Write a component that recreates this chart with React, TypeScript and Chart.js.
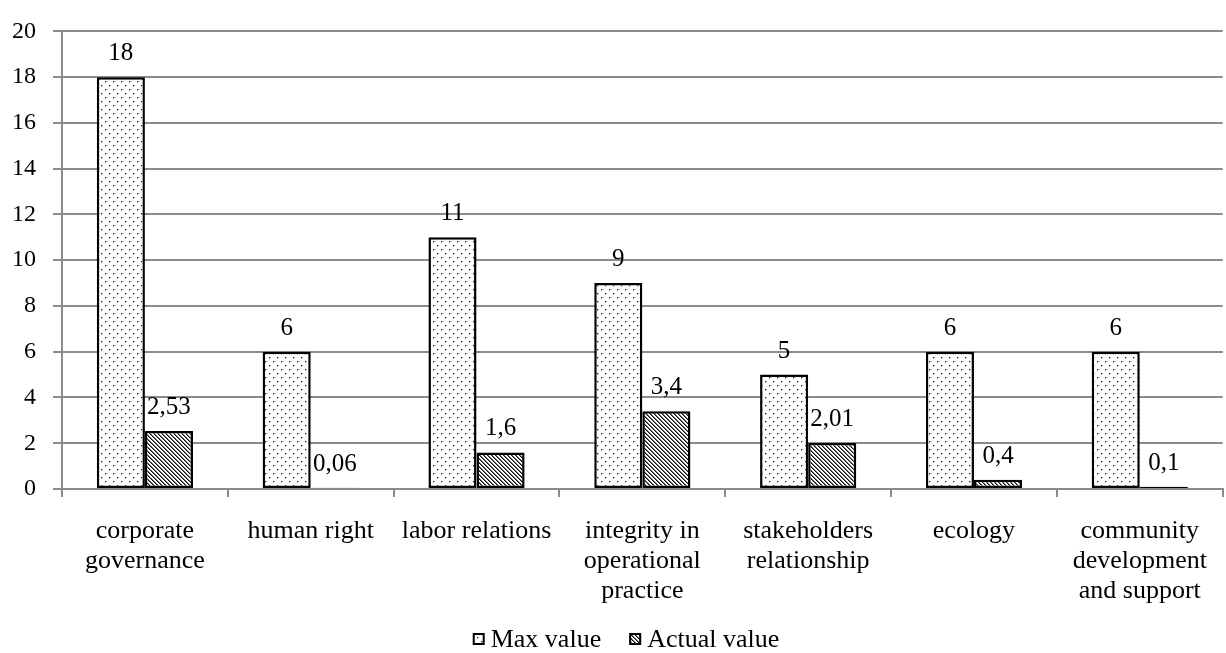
import React, { useEffect, useRef } from "react";
import { Chart, registerables } from "chart.js";

Chart.register(...registerables);

const categories: string[][] = [
  ["corporate", "governance"],
  ["human right"],
  ["labor relations"],
  ["integrity in", "operational", "practice"],
  ["stakeholders", "relationship"],
  ["ecology"],
  ["community", "development", "and support"],
];
const maxValues = [18, 6, 11, 9, 5, 6, 6];
const actualValues = [2.53, 0.06, 1.6, 3.4, 2.01, 0.4, 0.1];
const seriesNames = ["Max value", "Actual value"];
const yTicks = { min: 0, max: 20, step: 2 };

const FONT = "'Liberation Serif', 'Times New Roman', serif";

function makeDots(): CanvasPattern | string {
  const c = document.createElement("canvas");
  c.width = 8;
  c.height = 8;
  const ctx = c.getContext("2d");
  if (!ctx) return "#fff";
  ctx.fillStyle = "#fff";
  ctx.fillRect(0, 0, 8, 8);
  ctx.fillStyle = "#222";
  ctx.fillRect(1, 1, 1, 1);
  ctx.fillRect(5, 5, 1, 1);
  ctx.fillStyle = "rgba(0,0,0,0.35)";
  ctx.fillRect(2, 1, 1, 1);
  ctx.fillRect(6, 5, 1, 1);
  ctx.fillRect(1, 2, 1, 1);
  ctx.fillRect(5, 6, 1, 1);
  return ctx.createPattern(c, "repeat") || "#fff";
}

function makeHatch(): CanvasPattern | string {
  const n = 4;
  const c = document.createElement("canvas");
  c.width = n;
  c.height = n;
  const ctx = c.getContext("2d");
  if (!ctx) return "#666";
  const img = ctx.createImageData(n, n);
  for (let y = 0; y < n; y++) {
    for (let x = 0; x < n; x++) {
      const d = (((x - y) % n) + n) % n;
      let v = 255;
      if (d === 0) v = 15;
      else if (d === 1) v = 110;
      const i = (y * n + x) * 4;
      img.data[i] = v;
      img.data[i + 1] = v;
      img.data[i + 2] = v;
      img.data[i + 3] = 255;
    }
  }
  ctx.putImageData(img, 0, 0);
  return ctx.createPattern(c, "repeat") || "#666";
}

const fmt = (v: number) => String(v).replace(".", ",");

const labelPlugin = {
  id: "valueLabels",
  afterDatasetsDraw(chart: any) {
    const ctx = chart.ctx;
    ctx.save();
    ctx.font = `25px ${FONT}`;
    ctx.fillStyle = "#000";
    ctx.textAlign = "center";
    ctx.textBaseline = "alphabetic";
    chart.data.datasets.forEach((ds: any, di: number) => {
      const meta = chart.getDatasetMeta(di);
      meta.data.forEach((el: any, i: number) => {
        ctx.fillText(fmt(ds.data[i]), el.x, el.y - 17);
      });
    });
    ctx.restore();
  },
};

const legendPlugin = {
  id: "customLegend",
  afterDraw(chart: any) {
    const ctx = chart.ctx;
    ctx.save();
    ctx.font = `26px ${FONT}`;
    const box = 12;
    const textGap = 6;
    const itemGap = 28;
    const items = chart.data.datasets.map((ds: any) => ({
      text: ds.label,
      fill: ds.backgroundColor,
      w: box + textGap + ctx.measureText(ds.label).width,
    }));
    const total = items.reduce((s: number, it: any) => s + it.w, 0) + itemGap * (items.length - 1);
    let x = chart.width / 2 + 13 - total / 2;
    const cy = 639;
    items.forEach((it: any) => {
      ctx.fillStyle = it.fill;
      ctx.fillRect(x, cy - box / 2, box, box);
      ctx.strokeStyle = "#000";
      ctx.lineWidth = 2;
      ctx.strokeRect(x + 1, cy - box / 2 + 1, box - 2, box - 2);
      ctx.fillStyle = "#000";
      ctx.textAlign = "left";
      ctx.textBaseline = "middle";
      ctx.fillText(it.text, x + box + textGap, cy + 1);
      x += it.w + itemGap;
    });
    ctx.restore();
  },
};

export default function App() {
  const ref = useRef<HTMLCanvasElement | null>(null);
  useEffect(() => {
    if (!ref.current) return;
    const dots = makeDots();
    const hatch = makeHatch();
    const chart = new Chart(ref.current, {
      type: "bar",
      data: {
        labels: categories,
        datasets: [
          {
            label: seriesNames[0],
            data: maxValues,
            backgroundColor: dots as any,
            borderColor: "#000",
            borderWidth: 2.5,
            borderSkipped: false,
          },
          {
            label: seriesNames[1],
            data: actualValues,
            backgroundColor: hatch as any,
            borderColor: "#000",
            borderWidth: 2.5,
            borderSkipped: false,
          },
        ],
      },
      options: {
        responsive: false,
        animation: false,
        events: [],
        datasets: {
          bar: { categoryPercentage: 0.58, barPercentage: 1 },
        },
        layout: { padding: { top: 22, right: 1, left: 0, bottom: 0 } },
        plugins: {
          tooltip: { enabled: false },
          legend: { display: false },
        },
        scales: {
          x: {
            grid: {
              display: true,
              drawOnChartArea: false,
              drawTicks: true,
              tickLength: 8,
              color: "#8c8c8c",
              lineWidth: 2,
              offset: true,
            },
            border: { color: "#8c8c8c", width: 2 },
            ticks: {
              font: { family: FONT, size: 26, lineHeight: 1.15 },
              color: "#000",
              padding: 19,
              maxRotation: 0,
              autoSkip: false,
            },
            afterFit(scale: any) {
              scale.height = 164;
            },
          },
          y: {
            min: yTicks.min,
            max: yTicks.max,
            ticks: {
              stepSize: yTicks.step,
              font: { family: FONT, size: 24 },
              color: "#000",
              padding: 17,
            },
            grid: { color: "#8c8c8c", lineWidth: 2, tickLength: 9 },
            border: { color: "#8c8c8c", width: 2 },
            afterFit(scale: any) {
              scale.width = 62;
            },
          },
        },
      },
      plugins: [labelPlugin, legendPlugin],
    });
    return () => chart.destroy();
  }, []);
  return (
    <div style={{ position: "fixed", left: 0, top: 0, width: 1226, height: 653, background: "#fff" }}>
      <canvas ref={ref} width={1226} height={653} />
    </div>
  );
}
